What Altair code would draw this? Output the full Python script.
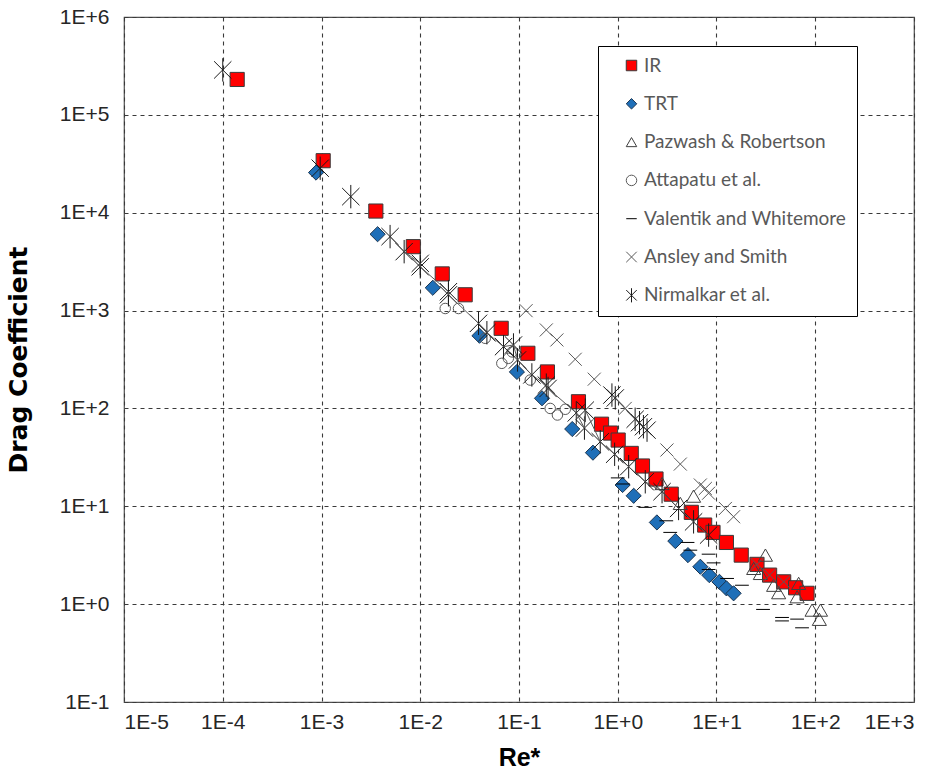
import altair as alt
import pandas as pd

# ---- measurements: particle Reynolds number vs drag coefficient ----
SERIES = ["IR", "TRT", "Pazwash & Robertson", "Attapatu et al.",
          "Valentik and Whitemore", "Ansley and Smith", "Nirmalkar et al."]

IR_RE = [1.4e-4, 1.04e-3, 3.55e-3, 8.5e-3, 1.67e-2, 2.85e-2, 0.066, 0.123, 0.194,
         0.40, 0.685, 0.845, 1.01, 1.37, 1.78, 2.44, 3.48, 5.56, 7.59, 9.22,
         12.6, 17.8, 25.7, 34.5, 47.9, 63.3, 82.6]
IR_CD = [2.3e5, 3.4e4, 1.04e4, 4.5e3, 2.37e3, 1.45e3, 659, 366, 236,
         117, 69, 56, 47.5, 34.7, 25.8, 19, 13.3, 8.67, 6.43, 5.41,
         4.27, 3.17, 2.55, 1.98, 1.69, 1.47, 1.29]

TRT_RE = [8.8e-4, 3.7e-3, 1.34e-2, 0.0398, 0.0953, 0.171, 0.346, 0.561, 1.12,
          1.45, 2.49, 3.83, 5.14, 6.86, 8.45, 10.7, 12.6, 14.9]
TRT_CD = [2.57e4, 6.03e3, 1.71e3, 553, 236, 127, 61.6, 35.3, 16.5,
          12.8, 6.84, 4.41, 3.17, 2.41, 1.98, 1.69, 1.45, 1.29]

PAZ_RE = [2.81, 4.30, 5.86, 23.8, 27.8, 31.3, 37.9, 42.6, 65.5, 67.9, 92.9, 113, 110]
PAZ_CD = [17.1, 10.7, 12.7, 2.32, 2.06, 3.17, 1.56, 1.31, 1.19, 1.63, 0.869, 0.869, 0.70]

ATT_RE = [0.0179, 0.0244, 0.0455, 0.067, 0.078, 0.0853, 0.130, 0.207, 0.245, 0.294]
ATT_CD = [1050, 1050, 521, 289, 325, 378, 195, 100, 85.7, 98]

VAL_RE = [1.0, 1.13, 1.90, 3.10, 3.40, 5.09, 5.43, 8.32, 9.35, 8.32, 12.8, 18.1,
          29.6, 46.1, 46.1, 65.5, 73.5]
VAL_CD = [19.5, 16.9, 9.75, 7.11, 5.41, 4.27, 3.56, 3.24, 2.64, 2.26, 1.83, 1.56,
          0.883, 0.731, 0.674, 0.703, 0.573]

ANS_RE = [0.118, 0.189, 0.242, 0.371, 0.578, 1.19, 3.15, 4.30, 6.86, 7.71, 8.32,
          12.3, 14.9, 25.7, 34.5, 47.9]
ANS_CD = [998, 634, 501, 318, 199, 100, 37.6, 27.0, 16.5, 15.2, 13.6,
          9.5, 7.82, 2.55, 1.98, 1.69]

NIR_RE = [1e-4, 9.7e-4, 1.98e-3, 4.95e-3, 6.87e-3, 0.01, 0.01, 0.0193, 0.0193,
          0.0389, 0.0473, 0.0697, 0.0879, 0.0966, 0.135, 0.189, 0.197, 0.38,
          0.46, 0.469, 0.665, 0.93, 1.29, 1.90, 2.81, 4.13, 5.86, 8.32,
          0.873, 0.944, 1.50, 1.66, 1.82, 1.98]
NIR_CD = [2.88e5, 2.85e4, 1.46e4, 5.7e3, 4.0e3, 3.04e3, 2.8e3, 1.56e3, 1.45e3,
          741, 594, 428, 445, 313, 220, 173, 160, 90,
          63, 96, 45.7, 34, 25.4, 17.8, 14.1, 9.5, 6.93, 5.08,
          137, 128, 77.5, 71.5, 65, 60]
# curve each point belongs to for the connecting line ("" = marker only)
NIR_CURVE = ["", "", "", "A", "A", "A", "A", "A", "A",
             "A", "A", "A", "A", "A", "A", "A", "A", "A",
             "A", "A", "A", "A", "A", "A", "A", "A", "A", "A",
             "B", "B", "B", "B", "B", "B"]

# ---- marker styling per series ----
SHAPES = ["square", "diamond", "triangle-up", "circle", "M-1,0L1,0",
          "M-1,-1L1,1M-1,1L1,-1",
          "M-1,-1L1,1M-1,1L1,-1M0,-1.35L0,1.35"]
FILLS = ["#ff0000", "#1f6fb8", "transparent", "transparent", "transparent",
         "transparent", "transparent"]
STROKES = ["#3a3a3a", "#1c3550", "#404040", "#595959", "#000000", "#595959", "#1a1a1a"]
WIDTHS = [1, 1, 1.2, 1.3, 2.6, 1.5, 1.3]
SIZES = [200, 230, 200, 110, 190, 170, 300]

frames = []
for i, (name, re, cd) in enumerate([
        (SERIES[0], IR_RE, IR_CD), (SERIES[1], TRT_RE, TRT_CD),
        (SERIES[2], PAZ_RE, PAZ_CD), (SERIES[3], ATT_RE, ATT_CD),
        (SERIES[4], VAL_RE, VAL_CD), (SERIES[5], ANS_RE, ANS_CD),
        (SERIES[6], NIR_RE, NIR_CD)]):
    frames.append(pd.DataFrame({"series": name, "re": re, "cd": cd,
                                "sz": SIZES[i], "rank": i}))
points = pd.concat(frames, ignore_index=True)

nir_line = pd.DataFrame({"re": NIR_RE, "cd": NIR_CD, "curve": NIR_CURVE})
nir_line = nir_line[nir_line["curve"] != ""]

DECADES_X = [10.0 ** k for k in range(-5, 4)]
DECADES_Y = [10.0 ** k for k in range(-1, 7)]
sci_label = ("'1E' + (round(log(datum.value)/LN10) >= 0 ? '+' : '') + "
             "round(log(datum.value)/LN10)")

x_enc = alt.X("re:Q",
              scale=alt.Scale(type="log", domain=[1e-5, 1e3]),
              axis=alt.Axis(values=DECADES_X, labelExpr=sci_label, title="Re*",
                            labelPadding=9, titlePadding=13,
                            titleFont="Liberation Sans"))
y_enc = alt.Y("cd:Q",
              scale=alt.Scale(type="log", domain=[1e-1, 1e6]),
              axis=alt.Axis(values=DECADES_Y, labelExpr=sci_label,
                            title="Drag Coefficient", labelPadding=15,
                            titlePadding=28, titleFont="DejaVu Sans"))

line = alt.Chart(nir_line).mark_line(color="#595959", strokeWidth=1).encode(
    x=x_enc, y=y_enc, detail="curve:N", order="re:Q")

legend = alt.Legend(title=None, orient="none", legendX=474, legendY=29,
                    strokeColor="#000000", fillColor="#ffffff", padding=10,
                    symbolOffset=14, rowPadding=18.3, labelOffset=3,
                    labelFont="Lato", labelFontSize=19, labelColor="#595959",
                    labelLimit=400, symbolSize=110)

marks = alt.Chart(points).mark_point(opacity=1).encode(
    x=x_enc, y=y_enc,
    shape=alt.Shape("series:N", scale=alt.Scale(domain=SERIES, range=SHAPES),
                    legend=legend),
    fill=alt.Fill("series:N", scale=alt.Scale(domain=SERIES, range=FILLS),
                  legend=legend),
    stroke=alt.Stroke("series:N", scale=alt.Scale(domain=SERIES, range=STROKES),
                      legend=legend),
    strokeWidth=alt.StrokeWidth("series:N",
                                scale=alt.Scale(domain=SERIES, range=WIDTHS),
                                legend=legend),
    size=alt.Size("sz:Q", scale=None, legend=None),
    order=alt.Order("rank:Q"),
)

chart = alt.layer(marks, line).properties(
    width=790, height=685,
    autosize=alt.AutoSizeParams(type="none"),
    padding={"left": 124, "top": 17, "right": 25, "bottom": 78},
    background="white",
).configure_view(
    stroke="#505050", strokeWidth=1.2
).configure_axis(
    grid=True, gridColor="#3a3a3a", gridDash=[4, 4], gridWidth=1.1,
    domain=False, ticks=False,
    labelFont="Liberation Sans", labelFontSize=21, labelColor="#262626",
    titleFontSize=25, titleFontWeight="bold", titleColor="#000000",
)

chart.save("out.html", embed_options={"renderer": "svg", "actions": False})
